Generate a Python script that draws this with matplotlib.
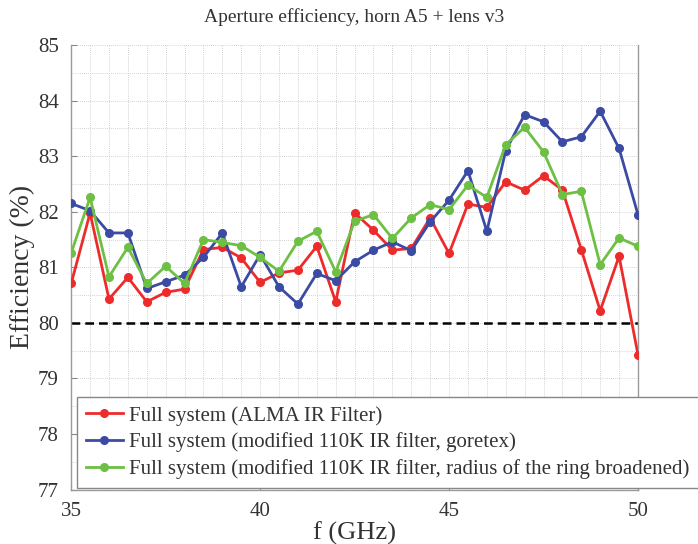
import matplotlib.pyplot as plt
import matplotlib.ticker as ticker
import numpy as np

# --- data ---
freq = np.arange(35.0, 50.01, 0.5)

eff_alma = [80.71, 81.98, 80.43, 80.82, 80.38, 80.55, 80.61, 81.32, 81.36, 81.17,
            80.73, 80.90, 80.95, 81.38, 80.38, 81.98, 81.67, 81.31, 81.34, 81.89,
            81.25, 82.14, 82.08, 82.54, 82.39, 82.65, 82.39, 81.32, 80.22, 81.20,
            79.43]
eff_goretex = [82.15, 82.02, 81.62, 81.62, 80.62, 80.74, 80.86, 81.18, 81.62, 80.65,
               81.23, 80.65, 80.34, 80.89, 80.76, 81.10, 81.31, 81.46, 81.30, 81.82,
               82.21, 82.74, 81.65, 83.10, 83.75, 83.62, 83.26, 83.35, 83.81, 83.14,
               81.95]
eff_ring = [81.26, 82.26, 80.83, 81.36, 80.71, 81.02, 80.71, 81.50, 81.45, 81.39,
            81.18, 80.93, 81.47, 81.65, 80.92, 81.83, 81.95, 81.52, 81.89, 82.13,
            82.04, 82.48, 82.26, 83.21, 83.52, 83.08, 82.31, 82.37, 81.05, 81.53,
            81.38]

labels = ["Full system (ALMA IR Filter)",
          "Full system (modified 110K IR filter, goretex)",
          "Full system (modified 110K IR filter, radius of the ring broadened)"]
colors = ["#ee2b2b", "#3b4ba3", "#6dc043"]
spec_limit = 80.0

plt.rcParams['font.family'] = ['Liberation Serif', 'DejaVu Serif']

fig = plt.figure(figsize=(6.98, 5.44), dpi=100)
ax = fig.add_axes([0.102, 0.100, 0.812, 0.817])

# grid every 0.5 in both directions
ax.xaxis.set_major_locator(ticker.MultipleLocator(5))
ax.xaxis.set_minor_locator(ticker.MultipleLocator(0.5))
ax.yaxis.set_major_locator(ticker.MultipleLocator(1))
ax.yaxis.set_minor_locator(ticker.MultipleLocator(0.5))
ax.grid(True, which='both', linestyle=(0, (1, 1.5)), linewidth=0.6, color='#c4c4c4', zorder=0)
ax.set_axisbelow(True)

# specification line
ax.plot([freq[0], freq[-1]], [spec_limit, spec_limit], color='black', linestyle=(0, (3.5, 2)),
        linewidth=1.8, zorder=2)

for y, lab, c in zip([eff_alma, eff_goretex, eff_ring], labels, colors):
    ax.plot(freq, y, '-o', color=c, linewidth=2.0, markersize=5.5, label=lab, zorder=3)

ax.set_xlim(35, 50)
ax.set_ylim(77, 85)

ax.set_title('Aperture efficiency, horn A5 + lens v3', fontsize=14, color='#333333', pad=17)
ax.set_xlabel('f (GHz)', fontsize=19, color='#333333', labelpad=0)
ax.set_ylabel('Efficiency (%)', fontsize=20, color='#333333', labelpad=2)

ax.tick_params(axis='both', which='major', direction='in', length=4, labelsize=15,
               labelcolor='#333333', color='#888888', width=0.8)
ax.tick_params(axis='y', which='major', pad=9)
ax.tick_params(axis='x', which='major', pad=9)
ax.tick_params(axis='both', which='minor', length=0)

for side in ['left', 'bottom', 'right']:
    ax.spines[side].set_color('#9a9a9a')
    ax.spines[side].set_linewidth(1.0)
ax.spines['top'].set_visible(False)

leg = ax.legend(loc='lower left', bbox_to_anchor=(0.01, 0.003), fontsize=15.0, frameon=True,
                fancybox=False, edgecolor='#888888', framealpha=1.0, handlelength=1.75,
                handletextpad=0.3, labelspacing=0.32, borderpad=0.45, borderaxespad=0)
leg.get_frame().set_linewidth(1.0)
for t in leg.get_texts():
    t.set_color('#333333')

fig.savefig('out.png', dpi=100)
